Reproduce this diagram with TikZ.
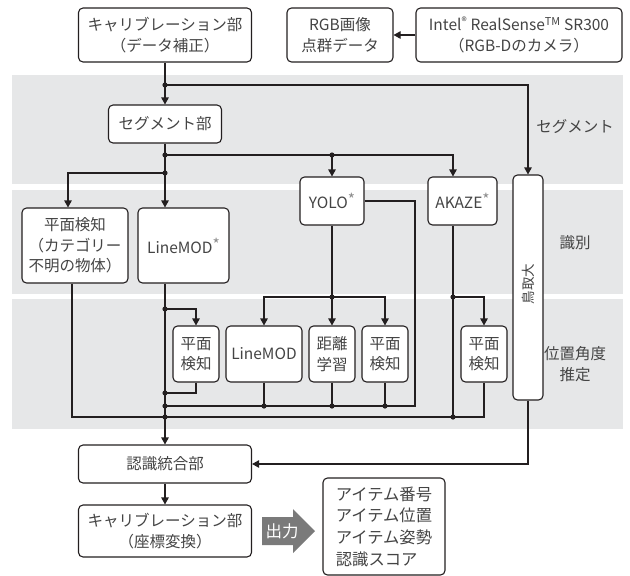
\documentclass[tikz,border=0pt]{standalone}
\usepackage{fontspec}
\setmainfont{Noto Sans CJK JP}
\usetikzlibrary{arrows.meta}
\definecolor{bandgray}{RGB}{230,231,232}
\definecolor{ink}{RGB}{35,31,32}
\definecolor{txt}{RGB}{68,68,68}
\definecolor{outgray}{RGB}{122,122,122}
\newcommand{\gast}{{\color{black!45}\raisebox{0.35ex}{*}}}
\begin{document}
\begin{tikzpicture}[x=1pt,y=-1pt,
  box/.style={draw=ink, line width=1.1pt, rounded corners=4.5pt, fill=white, align=center,
    inner sep=0pt, text=txt, font=\fontsize{15.5}{20.5}\selectfont},
  conn/.style={line width=1.1pt, draw=ink},
  arr/.style={conn, -{Triangle[length=7pt,width=7.5pt]}},
  band/.style={fill=bandgray, draw=none},
  lbl/.style={align=center, text=txt, font=\fontsize{15.5}{21}\selectfont}
]
\useasboundingbox (0,0) rectangle (630,576);
% bands
\fill[band] (12,75) rectangle (623,184);
\fill[band] (12,190) rectangle (623,294);
\fill[band] (12,299) rectangle (623,429);
\node[lbl] (lseg) at (575,127) {セグメント};
\node[lbl] (lid) at (575,243) {識別};
\node[lbl] (lpos) at (575,364) {位置角度\\推定};

% nodes
\node[box, minimum width=173pt, minimum height=54pt] (cal1) at (165,35) {キャリブレーション部\\（データ補正）};
\node[box, minimum width=106pt, minimum height=54pt] (rgb) at (340,35) {RGB画像\\点群データ};
\node[box, minimum width=206pt, minimum height=54pt] (intel) at (519,35) {Intel\textsuperscript{®} RealSense\textsuperscript{TM} SR300\\（RGB-Dのカメラ）};
\node[box, minimum width=113pt, minimum height=38pt] (seg) at (165,124) {セグメント部};
\node[box, minimum width=30pt, minimum height=225pt] (tall) at (528,287.5) {};
\node[rotate=90, text=txt, font=\fontsize{13.5}{15}\selectfont] (tallt) at (528,284) {鳥取大};
\node[box, minimum width=106pt, minimum height=75pt] (plane0) at (75,245.5) {平面検知\\（カテゴリー\\不明の物体）};
\node[box, minimum width=91pt, minimum height=75pt] (lm0) at (183.5,245.5) {LineMOD\gast};
\node[box, minimum width=64pt, minimum height=48pt] (yolo) at (332,201) {YOLO\gast};
\node[box, minimum width=69pt, minimum height=48pt] (akaze) at (462.5,201) {AKAZE\gast};
\node[box, minimum width=46pt, minimum height=56pt] (p1) at (196,354) {平面\\検知};
\node[box, minimum width=76pt, minimum height=56pt] (lm1) at (264,354) {LineMOD};
\node[box, minimum width=46pt, minimum height=56pt] (dist) at (332,354) {距離\\学習};
\node[box, minimum width=46pt, minimum height=56pt] (p2) at (385,354) {平面\\検知};
\node[box, minimum width=46pt, minimum height=56pt] (p3) at (484,354) {平面\\検知};
\node[box, minimum width=173pt, minimum height=38pt] (integ) at (165,464) {認識統合部};
\node[box, minimum width=173pt, minimum height=52pt] (cal2) at (165,531) {キャリブレーション部\\（座標変換）};
\node[box, minimum width=122pt, minimum height=97pt, align=left, font=\fontsize{16.3}{21.7}\selectfont] (out) at (384,526.5) {アイテム番号\\アイテム位置\\アイテム姿勢\\認識スコア};

% output arrow
\fill[outgray] (262,517) -- (293,517) -- (293,509) -- (315,531) -- (293,553) -- (293,545) -- (262,545) -- cycle;
\node[text=white, font=\fontsize{16.5}{18}\selectfont] (outlbl) at (282,531) {出力};

% junction coordinates
\coordinate (j1) at (165,85);
\coordinate (j2) at (165,155);
\coordinate (j3) at (165,173);
\coordinate (j4) at (332,155);
\coordinate (akx) at (453,155);
\coordinate (p0in) at (68,173);
\coordinate (j5) at (165,309);
\coordinate (j6) at (165,393);
\coordinate (j7) at (165,406);
\coordinate (j8) at (165,417);
\coordinate (j9) at (332,297);
\coordinate (yr) at (415,406);
\coordinate (ka) at (453,297);
\coordinate (kb) at (453,417);
\coordinate (l0) at (72,417);
\coordinate (b1) at (264,406);
\coordinate (b2) at (332,406);
\coordinate (b3) at (385,406);

% connectors
\draw[arr] (intel.west) -- (rgb.east);
\draw[arr] (cal1.south) -- (seg.north);
\draw[arr] (j1) -| (tall.north);
\draw[conn] (seg.south) -- (j3);
\draw[arr] (j2) -- (akx) -- (akaze.north -| akx);
\draw[arr] (j4) -- (yolo.north);
\draw[arr] (j3) -- (p0in) -- (plane0.north -| p0in);
\draw[arr] (j3) -- (lm0.north -| j3);
\draw[arr] (lm0.south -| j3) -- (integ.north);
\draw[arr] (j5) -| (p1.north);
\draw[conn] (p1.south) |- (j6);
\draw[conn] (yolo.east) -| (yr) -- (j7);
\draw[conn] (lm1.south) -- (b1);
\draw[conn] (dist.south) -- (b2);
\draw[conn] (p2.south) -- (b3);
\draw[conn] (yolo.south) -- (j9);
\draw[arr] (j9) -- (dist.north);
\draw[arr] (j9) -| (lm1.north);
\draw[arr] (j9) -| (p2.north);
\draw[conn] (akaze.south -| ka) -- (kb);
\draw[arr] (ka) -| (p3.north);
\draw[conn] (plane0.south -| l0) -- (l0) -| (p3.south);
\draw[arr] (tall.south) |- (integ.east);
\draw[arr] (integ.south) -- (cal2.north);

% dots
\foreach \p in {j1,j2,j3,j4,j5,j6,j7,j8,j9,ka,kb,b1,b2,b3}
  \fill[ink] (\p) circle (2.6pt);
\end{tikzpicture}
\end{document}
